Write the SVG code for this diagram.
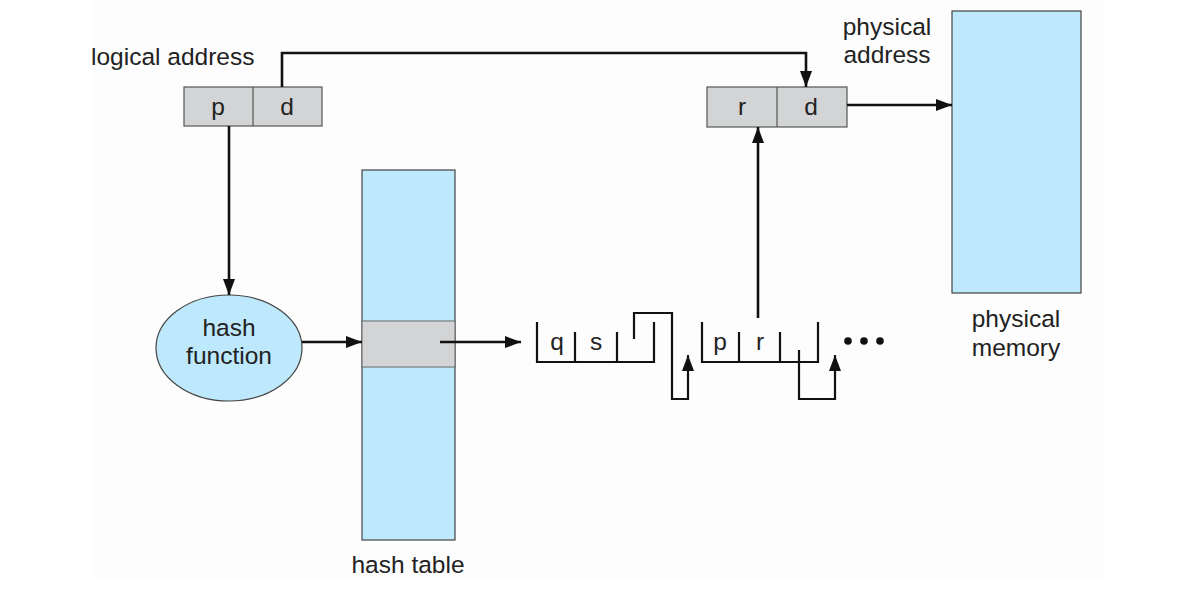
<svg xmlns="http://www.w3.org/2000/svg" width="1196" height="592" viewBox="0 0 1196 592">
<style>
text{font-family:"Liberation Sans",Arial,sans-serif;font-size:24.5px;fill:#222}
.c{text-anchor:middle}
.box{fill:#d3d4d5;stroke:#555;stroke-width:1.2}
.blue{fill:#bee8fb;stroke:#444;stroke-width:1.2}
.ln{fill:none;stroke:#111;stroke-width:2.6}
.thin{fill:none;stroke:#111;stroke-width:2.2}
</style>
<defs>
<marker id="a" viewBox="0 0 16 12" refX="16" refY="6" markerWidth="16" markerHeight="12" orient="auto" markerUnits="userSpaceOnUse">
<path d="M0,0 L16,6 L0,12 Z" fill="#111"/>
</marker>
</defs>
<rect x="94" y="0" width="1010" height="578" fill="#fdfdfd"/>
<g id="logical-address">
<text x="91" y="65">logical address</text>
<rect class="box" x="184" y="87" width="138" height="39"/>
<line x1="253" y1="87" x2="253" y2="126" stroke="#555" stroke-width="1.2"/>
<text class="c" x="218" y="115">p</text>
<text class="c" x="287" y="115">d</text>
</g>
<g id="physical-address">
<text class="c" x="887" y="35">physical</text>
<text class="c" x="887" y="63">address</text>
<rect class="box" x="707" y="87" width="140" height="40"/>
<line x1="777" y1="87" x2="777" y2="127" stroke="#555" stroke-width="1.2"/>
<text class="c" x="742" y="115">r</text>
<text class="c" x="811" y="115">d</text>
</g>
<g id="physical-memory">
<rect class="blue" x="952" y="11" width="129" height="282"/>
<text class="c" x="1016" y="327">physical</text>
<text class="c" x="1016" y="356">memory</text>
</g>
<g id="hash-function">
<ellipse cx="229" cy="348" rx="73" ry="53" class="blue"/>
<text class="c" x="229" y="336">hash</text>
<text class="c" x="229" y="364">function</text>
</g>
<g id="hash-table">
<rect class="blue" x="362" y="170" width="93" height="370"/>
<rect x="362" y="321" width="93" height="46" fill="#d3d4d5" stroke="#666" stroke-width="1"/>
<text class="c" x="408" y="573">hash table</text>
</g>
<g id="list-node-1">
<path class="thin" d="M537,322 V362 H654 V322 M575,332 V362 M617,332 V362"/>
<text class="c" x="557" y="350">q</text>
<text class="c" x="596" y="350">s</text>
</g>
<g id="list-node-2">
<path class="thin" d="M702,322 V362 H818 V322 M739,332 V362 M780,332 V362"/>
<text class="c" x="720" y="350">p</text>
<text class="c" x="760" y="350">r</text>
</g>
<g id="ellipsis">
<circle cx="848" cy="341" r="3.8" fill="#111"/>
<circle cx="864" cy="341" r="3.8" fill="#111"/>
<circle cx="880" cy="341" r="3.8" fill="#111"/>
</g>
<g id="connectors">
<path class="ln" d="M282,87 V53 H806 V87" marker-end="url(#a)"/>
<path class="ln" d="M229,126 V295" marker-end="url(#a)"/>
<path class="ln" d="M847,105 H952" marker-end="url(#a)"/>
<path class="ln" d="M302,342 H362" marker-end="url(#a)"/>
<path class="ln" d="M440,342 H521" marker-end="url(#a)"/>
<path class="ln" d="M758,318 V127" marker-end="url(#a)"/>
<path class="thin" d="M634,339 V313 H672 V399 H688 V355" marker-end="url(#a)"/>
<path class="thin" d="M799,350 V399 H835 V355" marker-end="url(#a)"/>
</g>
</svg>
